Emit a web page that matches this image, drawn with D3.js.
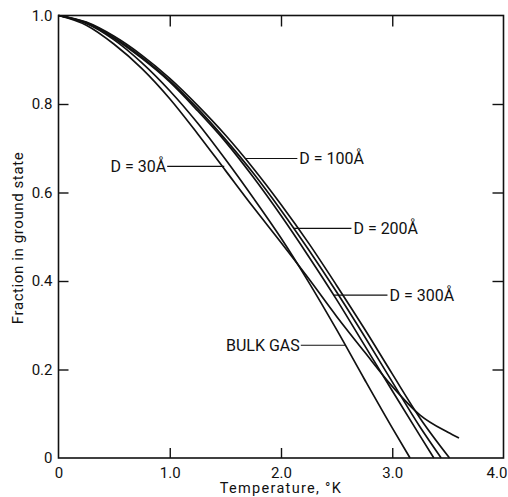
<!DOCTYPE html>
<html>
<head>
<meta charset="utf-8">
<script src="https://cdn.jsdelivr.net/npm/d3@7"></script>
<style>
  html, body { margin: 0; padding: 0; background: #fff; }
  svg { display: block; }
  text { font-family: Roboto, "DejaVu Sans", sans-serif; fill: #111; }
</style>
</head>
<body>
<svg id="chart" width="508" height="497"></svg>
<script>
// ---- data ----
const bulkT = [0, 0.25, 0.5, 0.75, 1.0, 1.25, 1.5, 1.75, 2.0, 2.25, 2.5, 2.75, 3.0, 3.16];
const bulkF = [1, 0.982, 0.945, 0.893, 0.83, 0.757, 0.675, 0.588, 0.497, 0.397, 0.29, 0.178, 0.068, 0];

const d30T = [0, 0.25, 0.5, 0.75, 1.0, 1.25, 1.5, 1.75, 2.0, 2.25, 2.5, 2.75, 3.0, 3.25, 3.5, 3.6];
const d30F = [1, 0.978, 0.935, 0.88, 0.812, 0.733, 0.65, 0.567, 0.487, 0.405, 0.32, 0.24, 0.162, 0.097, 0.058, 0.045];

const d100T = [0, 0.25, 0.5, 0.75, 1.0, 1.25, 1.5, 1.75, 2.0, 2.25, 2.5, 2.75, 3.0, 3.25, 3.515];
const d100F = [1, 0.985, 0.953, 0.91, 0.858, 0.797, 0.73, 0.655, 0.573, 0.485, 0.39, 0.292, 0.19, 0.09, 0];

const d200T = [0, 0.25, 0.5, 0.75, 1.0, 1.25, 1.5, 1.75, 2.0, 2.25, 2.5, 2.75, 3.0, 3.25, 3.44];
const d200F = [1, 0.984, 0.95, 0.906, 0.853, 0.79, 0.72, 0.644, 0.56, 0.47, 0.375, 0.275, 0.172, 0.07, 0];

const d300T = [0, 0.25, 0.5, 0.75, 1.0, 1.25, 1.5, 1.75, 2.0, 2.25, 2.5, 2.75, 3.0, 3.25, 3.374];
const d300F = [1, 0.983, 0.948, 0.903, 0.85, 0.785, 0.715, 0.635, 0.548, 0.455, 0.358, 0.255, 0.152, 0.05, 0];

const xTicks = [0, 1, 2, 3, 4];
const yTicks = [0, 0.2, 0.4, 0.6, 0.8, 1.0];

// labels: text, leader start/end (data units) and text side
const labelNames = ["D = 30Å", "D = 100Å", "D = 200Å", "D = 300Å", "BULK GAS"];
const labelF     = [0.659, 0.677, 0.519, 0.368, 0.2547];
const leaderT0   = [0.977, 1.677, 2.11, 2.471, 2.178];
const leaderT1   = [1.49, 2.147, 2.633, 2.957, 2.575];
const labelSide  = ["left", "right", "right", "right", "left"];

// ---- layout ----
const svg = d3.select("#chart");
const x = d3.scaleLinear().domain([0, 4]).range([58.5, 503.5]);
const y = d3.scaleLinear().domain([0, 1]).range([458, 15.5]);

const fmt = v => v === 0 ? "0" : d3.format(".1f")(v);

// frame
svg.append("rect")
  .attr("x", x(0)).attr("y", y(1))
  .attr("width", x(4) - x(0)).attr("height", y(0) - y(1))
  .attr("fill", "none").attr("stroke", "#111").attr("stroke-width", 1.6);

// left axis
const gl = svg.append("g").attr("transform", `translate(${x(0)},0)`)
  .call(d3.axisLeft(y).tickValues(yTicks).tickSize(-10).tickPadding(6).tickFormat(fmt));
gl.select(".domain").remove();
gl.selectAll(".tick line").attr("stroke", "#111").attr("stroke-width", 1.4)
  .filter(d => d === 0 || d === 1).remove();
gl.selectAll(".tick text").style("font-size", "15px").attr("fill", "#111");

// bottom axis
const gb = svg.append("g").attr("transform", `translate(0,${y(0)})`)
  .call(d3.axisBottom(x).tickValues(xTicks).tickSize(-10).tickPadding(9).tickFormat(fmt));
gb.select(".domain").remove();
gb.selectAll(".tick line").attr("stroke", "#111").attr("stroke-width", 1.4)
  .filter(d => d === 0 || d === 4).remove();
gb.selectAll(".tick text").style("font-size", "15px").attr("fill", "#111")
  .attr("dx", d => d === 4 ? "-7" : "0");

// top axis ticks
const gt = svg.append("g").attr("transform", `translate(0,${y(1)})`)
  .call(d3.axisTop(x).tickValues([1, 2, 3]).tickSize(-11).tickFormat(""));
gt.select(".domain").remove();
gt.selectAll(".tick line").attr("stroke", "#111").attr("stroke-width", 1.4);

// right axis ticks
const gr = svg.append("g").attr("transform", `translate(${x(4)},0)`)
  .call(d3.axisRight(y).tickValues([0.2, 0.4, 0.6, 0.8]).tickSize(-11).tickFormat(""));
gr.select(".domain").remove();
gr.selectAll(".tick line").attr("stroke", "#111").attr("stroke-width", 1.4);

// axis titles
svg.append("text")
  .attr("x", 281).attr("y", 493)
  .attr("text-anchor", "middle")
  .style("font-size", "14.5px").style("letter-spacing", "1.3px")
  .text("Temperature, °K");

svg.append("text")
  .attr("transform", `translate(23,${238}) rotate(-90)`)
  .attr("text-anchor", "middle")
  .style("font-size", "15px").style("letter-spacing", "0.6px")
  .text("Fraction in ground state");

// curves
const series = [
  { T: bulkT, F: bulkF },
  { T: d30T, F: d30F },
  { T: d100T, F: d100F },
  { T: d200T, F: d200F },
  { T: d300T, F: d300F }
];
const line = d3.line().x(d => x(d[0])).y(d => y(d[1])).curve(d3.curveMonotoneX);
svg.append("g").selectAll("path").data(series).join("path")
  .attr("d", s => line(s.T.map((t, i) => [t, s.F[i]])))
  .attr("fill", "none").attr("stroke", "#111").attr("stroke-width", 1.7)
  .attr("stroke-linejoin", "round");

// labels with leader lines
const labels = labelNames.map((name, i) => ({
  name, f: labelF[i], t0: leaderT0[i], t1: leaderT1[i], side: labelSide[i]
}));
const gL = svg.append("g");
gL.selectAll("line").data(labels).join("line")
  .attr("x1", d => x(d.t0)).attr("x2", d => x(d.t1))
  .attr("y1", d => y(d.f)).attr("y2", d => y(d.f))
  .attr("stroke", "#111").attr("stroke-width", 1.1);
gL.selectAll("text").data(labels).join("text")
  .attr("x", d => d.side === "left" ? x(d.t0) - 1 : x(d.t1) + 2)
  .attr("y", d => y(d.f) + 5.8)
  .attr("text-anchor", d => d.side === "left" ? "end" : "start")
  .style("font-size", "16px")
  .text(d => d.name);
</script>
</body>
</html>
